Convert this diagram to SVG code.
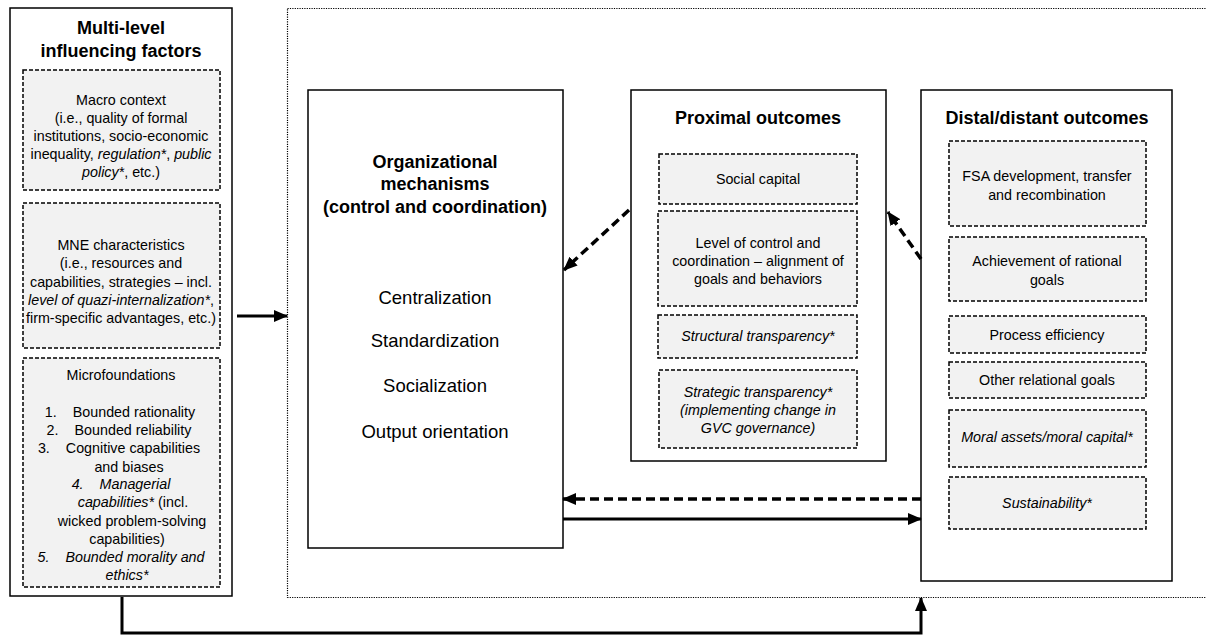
<svg xmlns="http://www.w3.org/2000/svg" width="1206" height="637" viewBox="0 0 1206 637">
<style>
.box{fill:#fff;stroke:#000;stroke-width:1.5}
.sub{fill:#f2f2f2;stroke:#000;stroke-width:1.5;stroke-dasharray:4 2}
.dot{fill:none;stroke:#000;stroke-width:1.2;stroke-dasharray:1.2 1.2}
.t{font-family:"Liberation Sans",Arial,sans-serif;font-size:14.3px;fill:#000;text-anchor:middle}
.h{font-family:"Liberation Sans",Arial,sans-serif;font-size:18px;font-weight:bold;fill:#000;text-anchor:middle}
.m{font-family:"Liberation Sans",Arial,sans-serif;font-size:18.5px;fill:#000;text-anchor:middle}
.i{font-style:italic}
.a{fill:none;stroke:#000;stroke-width:3}
.d{fill:none;stroke:#000;stroke-width:3.5;stroke-dasharray:9 5}
</style>
<defs>
<marker id="ah" markerUnits="userSpaceOnUse" markerWidth="14" markerHeight="12" viewBox="0 0 14 12" refX="13" refY="6" orient="auto">
<path d="M0,0 L14,6 L0,12 Z" fill="#000"/>
</marker>
</defs>
<rect class="dot" x="287.5" y="8.5" width="930" height="589"/>
<g id="factors">
<rect class="box" x="10" y="8" width="222" height="588"/>
<text class="h" x="121" y="34">Multi-level</text>
<text class="h" x="121" y="57">influencing factors</text>
<rect class="sub" x="23" y="70" width="197" height="120"/>
<text class="t" x="121" y="105">Macro context</text>
<text class="t" x="121" y="123">(i.e., quality of formal</text>
<text class="t" x="121" y="141">institutions, socio-economic</text>
<text class="t" x="121" y="159">inequality, <tspan class="i">regulation*</tspan>, <tspan class="i">public</tspan></text>
<text class="t" x="121" y="177"><tspan class="i">policy*</tspan>, etc.)</text>
<rect class="sub" x="23" y="203" width="197" height="145"/>
<text class="t" x="121" y="250">MNE characteristics</text>
<text class="t" x="121" y="268">(i.e., resources and</text>
<text class="t" x="121" y="287">capabilities, strategies – incl.</text>
<text class="t" x="121" y="305"><tspan class="i">level of quazi-internalization*</tspan>,</text>
<text class="t" x="121" y="323">firm-specific advantages, etc.)</text>
<rect class="sub" x="23" y="358" width="197" height="229"/>
<text class="t" x="121" y="380">Microfoundations</text>
<text class="t" x="120" y="417">1.<tspan dx="16">Bounded rationality</tspan></text>
<text class="t" x="119" y="435">2.<tspan dx="16">Bounded reliability</tspan></text>
<text class="t" x="119" y="453">3.<tspan dx="16">Cognitive capabilities</tspan></text>
<text class="t" x="129" y="472">and biases</text>
<text class="t i" x="121" y="489">4.<tspan dx="16">Managerial</tspan></text>
<text class="t" x="133" y="507"><tspan class="i">capabilities*</tspan> (incl.</text>
<text class="t" x="132" y="526">wicked problem-solving</text>
<text class="t" x="127" y="544">capabilities)</text>
<text class="t i" x="121" y="562">5.<tspan dx="16">Bounded morality and</tspan></text>
<text class="t i" x="127" y="580">ethics*</text>
</g>
<g id="mechanisms">
<rect class="box" x="308" y="90" width="255" height="458"/>
<text class="h" x="435" y="168">Organizational</text>
<text class="h" x="435" y="190">mechanisms</text>
<text class="h" x="435" y="213">(control and coordination)</text>
<text class="m" x="435" y="304">Centralization</text>
<text class="m" x="435" y="347">Standardization</text>
<text class="m" x="435" y="392">Socialization</text>
<text class="m" x="435" y="438">Output orientation</text>
</g>
<g id="proximal">
<rect class="box" x="631" y="90" width="255" height="371"/>
<text class="h" x="758" y="124">Proximal outcomes</text>
<rect class="sub" x="659" y="154" width="198" height="50"/>
<text class="t" x="758" y="184">Social capital</text>
<rect class="sub" x="658" y="211" width="199" height="95"/>
<text class="t" x="758" y="248">Level of control and</text>
<text class="t" x="758" y="266">coordination – alignment of</text>
<text class="t" x="758" y="284">goals and behaviors</text>
<rect class="sub" x="658" y="315" width="199" height="43"/>
<text class="t i" x="758" y="341">Structural transparency*</text>
<rect class="sub" x="659" y="370" width="198" height="78"/>
<text class="t i" x="758" y="397">Strategic transparency*</text>
<text class="t i" x="758" y="415">(implementing change in</text>
<text class="t i" x="758" y="433">GVC governance)</text>
</g>
<g id="distal">
<rect class="box" x="921" y="90" width="251" height="491"/>
<text class="h" x="1047" y="124">Distal/distant outcomes</text>
<rect class="sub" x="949" y="141" width="197" height="85"/>
<text class="t" x="1047" y="181">FSA development, transfer</text>
<text class="t" x="1047" y="200">and recombination</text>
<rect class="sub" x="949" y="237" width="197" height="64"/>
<text class="t" x="1047" y="266">Achievement of rational</text>
<text class="t" x="1047" y="285">goals</text>
<rect class="sub" x="949" y="316" width="197" height="37"/>
<text class="t" x="1047" y="340">Process efficiency</text>
<rect class="sub" x="949" y="362" width="197" height="36"/>
<text class="t" x="1047" y="385">Other relational goals</text>
<rect class="sub" x="949" y="410" width="197" height="57"/>
<text class="t i" x="1047" y="442">Moral assets/moral capital*</text>
<rect class="sub" x="949" y="477" width="197" height="52"/>
<text class="t i" x="1047" y="508">Sustainability*</text>
</g>
<g id="connectors">
<line class="a" x1="237" y1="316" x2="287" y2="316" marker-end="url(#ah)"/>
<line class="d" x1="629" y1="210" x2="564" y2="270" marker-end="url(#ah)"/>
<line class="d" x1="921" y1="259" x2="888" y2="212" marker-end="url(#ah)"/>
<line class="d" x1="921" y1="499" x2="563" y2="499" marker-end="url(#ah)"/>
<line class="a" x1="563" y1="519" x2="921" y2="519" marker-end="url(#ah)"/>
<polyline class="a" points="122,597 122,633 921,633 921,598" marker-end="url(#ah)"/>
</g>
</svg>
